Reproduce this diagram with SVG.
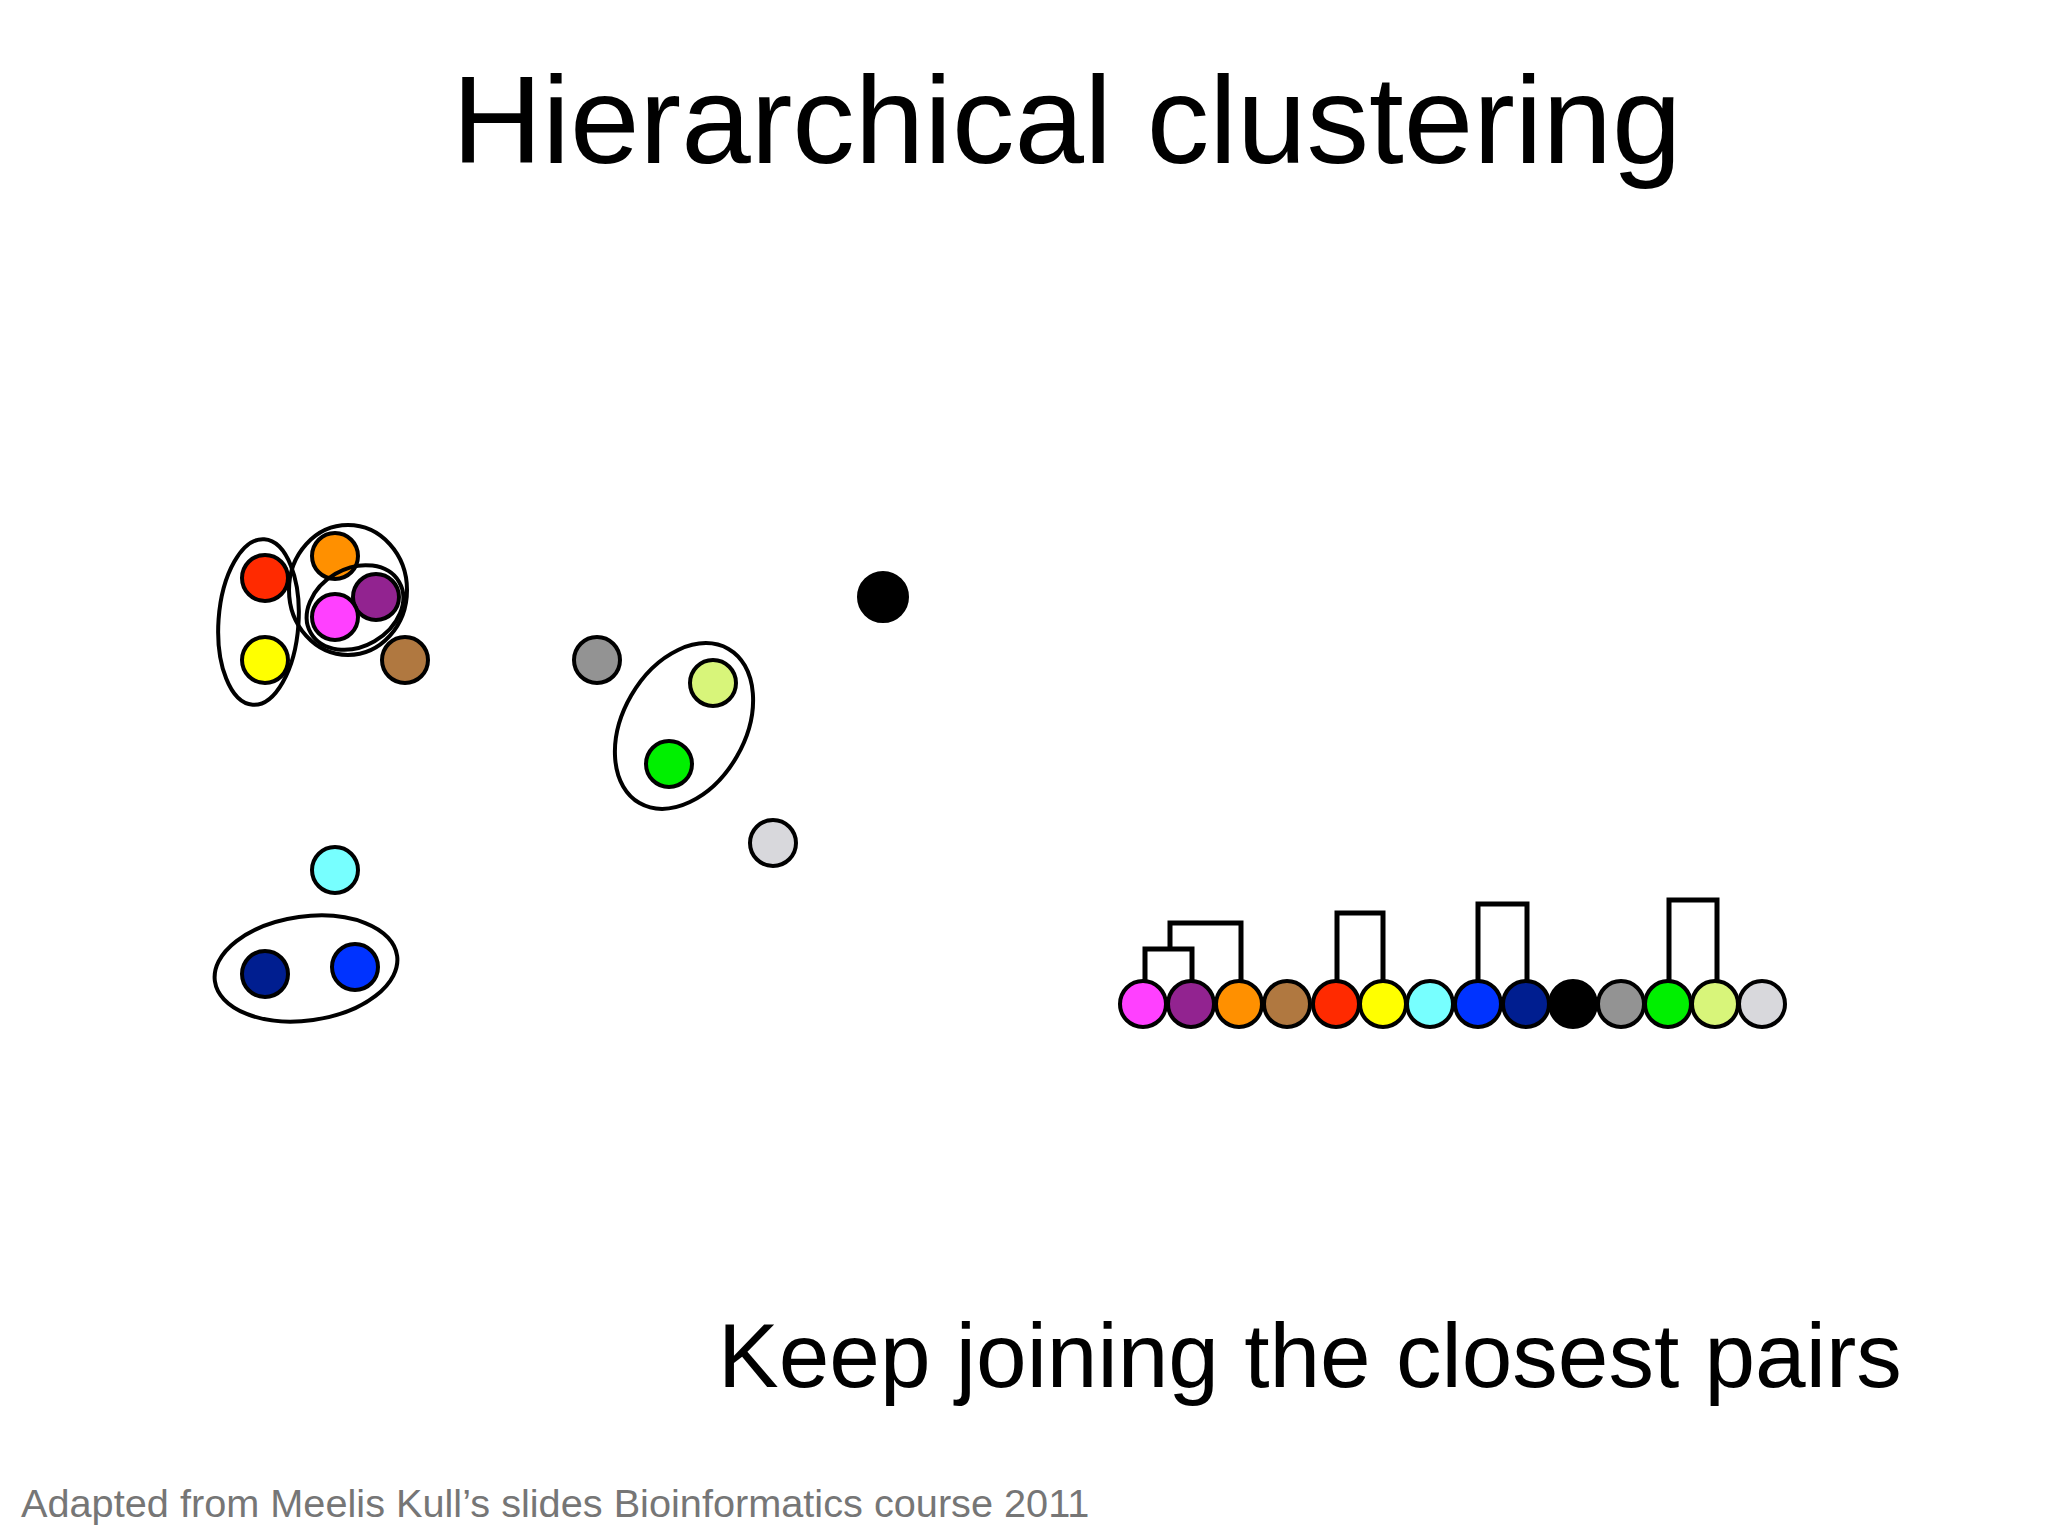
<svg xmlns="http://www.w3.org/2000/svg" width="2048" height="1536" viewBox="0 0 2048 1536">
<style>
.pt{stroke:#000;stroke-width:4}
.cl{fill:none;stroke:#000;stroke-width:4}
.dg{fill:none;stroke:#000;stroke-width:5;stroke-linejoin:miter;stroke-linecap:butt}
.title{font-family:"Liberation Sans",Arial,sans-serif;fill:#000}
.foot{font-family:"Liberation Sans",Arial,sans-serif;fill:#767676}
</style>
<rect width="2048" height="1536" fill="#ffffff"/>
<text class="title" x="452" y="163" font-size="125">Hierarchical clustering</text>

<!-- scatter points -->
<g id="pt-red"><circle class="pt" cx="265" cy="578" r="23" fill="#ff2a00"/></g>
<g id="pt-yellow"><circle class="pt" cx="265" cy="660" r="23" fill="#ffff00"/></g>
<g id="pt-orange"><circle class="pt" cx="335" cy="556" r="23" fill="#ff9000"/></g>
<g id="pt-purple"><circle class="pt" cx="376" cy="597" r="23" fill="#922390"/></g>
<g id="pt-magenta"><circle class="pt" cx="335" cy="617" r="23" fill="#ff40ff"/></g>
<g id="pt-brown"><circle class="pt" cx="405" cy="660" r="23" fill="#b07840"/></g>
<g id="pt-cyan"><circle class="pt" cx="335" cy="870" r="23" fill="#77ffff"/></g>
<g id="pt-navy"><circle class="pt" cx="265" cy="974" r="23" fill="#001e90"/></g>
<g id="pt-blue"><circle class="pt" cx="355" cy="967" r="23" fill="#0033ff"/></g>
<g id="pt-black"><circle class="pt" cx="883" cy="597" r="24" fill="#000000"/></g>
<g id="pt-gray"><circle class="pt" cx="597" cy="660" r="23" fill="#939393"/></g>
<g id="pt-lightgreen"><circle class="pt" cx="713" cy="683" r="23" fill="#d8f57a"/></g>
<g id="pt-green"><circle class="pt" cx="669" cy="764" r="23" fill="#00f000"/></g>
<g id="pt-lightgray"><circle class="pt" cx="773" cy="843" r="23" fill="#d8d8dc"/></g>

<!-- cluster outlines -->
<g id="clusters">
<ellipse class="cl" cx="0" cy="0" rx="40" ry="83" transform="translate(258.5 622) rotate(4)"/>
<ellipse class="cl" cx="348" cy="590" rx="59" ry="65"/>
<ellipse class="cl" cx="0" cy="0" rx="51" ry="39" transform="translate(355 607.5) rotate(-30)"/>
<ellipse class="cl" cx="0" cy="0" rx="92" ry="52" transform="translate(306 968.5) rotate(-8)"/>
<ellipse class="cl" cx="0" cy="0" rx="61" ry="89" transform="translate(684 726) rotate(30)"/>
</g>

<!-- dendrogram connectors -->
<g id="connectors">
<path class="dg" d="M1145 990 V949 H1192 V990"/>
<path class="dg" d="M1170 949 V923 H1241 V990"/>
<path class="dg" d="M1337 990 V913 H1383 V990"/>
<path class="dg" d="M1478 990 V904 H1527 V990"/>
<path class="dg" d="M1669 990 V900 H1717 V990"/>
</g>

<!-- dendrogram leaves -->
<g id="leaf-magenta"><circle class="pt" cx="1143" cy="1004" r="23" fill="#ff40ff"/></g>
<g id="leaf-purple"><circle class="pt" cx="1191" cy="1004" r="23" fill="#922390"/></g>
<g id="leaf-orange"><circle class="pt" cx="1239" cy="1004" r="23" fill="#ff9000"/></g>
<g id="leaf-brown"><circle class="pt" cx="1287" cy="1004" r="23" fill="#b07840"/></g>
<g id="leaf-red"><circle class="pt" cx="1336" cy="1004" r="23" fill="#ff2a00"/></g>
<g id="leaf-yellow"><circle class="pt" cx="1383" cy="1004" r="23" fill="#ffff00"/></g>
<g id="leaf-cyan"><circle class="pt" cx="1430" cy="1004" r="23" fill="#77ffff"/></g>
<g id="leaf-blue"><circle class="pt" cx="1478" cy="1004" r="23" fill="#0033ff"/></g>
<g id="leaf-navy"><circle class="pt" cx="1526" cy="1004" r="23" fill="#001e90"/></g>
<g id="leaf-black"><circle class="pt" cx="1573" cy="1004" r="23" fill="#000000"/></g>
<g id="leaf-gray"><circle class="pt" cx="1621" cy="1004" r="23" fill="#939393"/></g>
<g id="leaf-green"><circle class="pt" cx="1668" cy="1004" r="23" fill="#00f000"/></g>
<g id="leaf-lightgreen"><circle class="pt" cx="1715" cy="1004" r="23" fill="#d8f57a"/></g>
<g id="leaf-lightgray"><circle class="pt" cx="1762" cy="1004" r="23" fill="#d8d8dc"/></g>

<text class="title" x="718" y="1387" font-size="91">Keep joining the closest pairs</text>
<text class="foot" x="21" y="1517" font-size="39.7">Adapted from Meelis Kull’s slides Bioinformatics course 2011</text>
</svg>
